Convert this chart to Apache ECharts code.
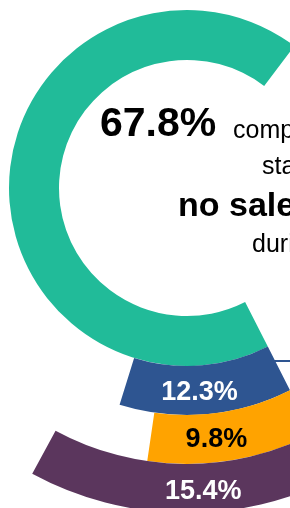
<!DOCTYPE html>
<html>
<head>
<meta charset="utf-8">
<script src="https://cdn.jsdelivr.net/npm/echarts@6/dist/echarts.min.js"></script>
<style>
  html, body { margin: 0; padding: 0; background: #fff; }
  #chart { width: 290px; height: 508px; }
</style>
</head>
<body>
<div id="chart"></div>
<script>
// share of companies (outer rings are breakdowns of the remaining share)
var ringNames = ['no sales', 'group a', 'group b', 'group c'];
var ringValues = [67.8, 12.3, 9.8, 15.4];
var ringColors = ['#21bb99', '#2e5591', '#ffa300', '#5b365d'];
var labelColors = ['#fff', '#fff', '#000', '#fff'];

var chart = echarts.init(document.getElementById('chart'));

var center = [187, 188];
var radii = [[128, 178], [178, 227], [227, 276], [276, 325]];
var labelPad = [[0, 0, 0, 0], [0, 10, 0, 0], [0, 24, 0, 0], [0, 0, 0, 40]];

var series = ringValues.map(function (v, i) {
    return {
        type: 'pie',
        center: center,
        radius: radii[i],
        startAngle: 297,
        clockwise: true,
        silent: true,
        animation: false,
        labelLine: { show: false },
        emphasis: { disabled: true },
        data: [
            {
                name: ringNames[i],
                value: v,
                itemStyle: { color: ringColors[i] },
                label: {
                    show: i > 0,
                    position: 'inside',
                    formatter: '{c}%',
                    color: labelColors[i],
                    fontFamily: 'Liberation Sans',
                    fontWeight: 'bold',
                    fontSize: 27,
                    padding: labelPad[i]
                }
            },
            {
                name: 'rest',
                value: +(100 - v).toFixed(1),
                itemStyle: { color: 'rgba(0,0,0,0)' },
                label: { show: false }
            }
        ]
    };
});

var option = {
    backgroundColor: '#fff',
    series: series,
    graphic: [
        { type: 'text', style: { x: 100, y: 125, text: ringValues[0] + '%', font: 'bold 41px "Liberation Sans"', fill: '#000', textVerticalAlign: 'middle' } },
        { type: 'text', style: { x: 233, y: 131, text: 'companies', font: '25px "Liberation Sans"', fill: '#000', textVerticalAlign: 'middle' } },
        { type: 'text', style: { x: 262, y: 167, text: 'stated', font: '25px "Liberation Sans"', fill: '#000', textVerticalAlign: 'middle' } },
        { type: 'text', style: { x: 178, y: 207, text: 'no sales', font: 'bold 34px "Liberation Sans"', fill: '#000', textVerticalAlign: 'middle' } },
        { type: 'text', style: { x: 252, y: 245, text: 'during', font: '25px "Liberation Sans"', fill: '#000', textVerticalAlign: 'middle' } },
        { type: 'line', shape: { x1: 250, y1: 361, x2: 292, y2: 361 }, style: { stroke: '#2e5591', lineWidth: 2 } }
    ]
};

chart.setOption(option);
</script>
</body>
</html>
